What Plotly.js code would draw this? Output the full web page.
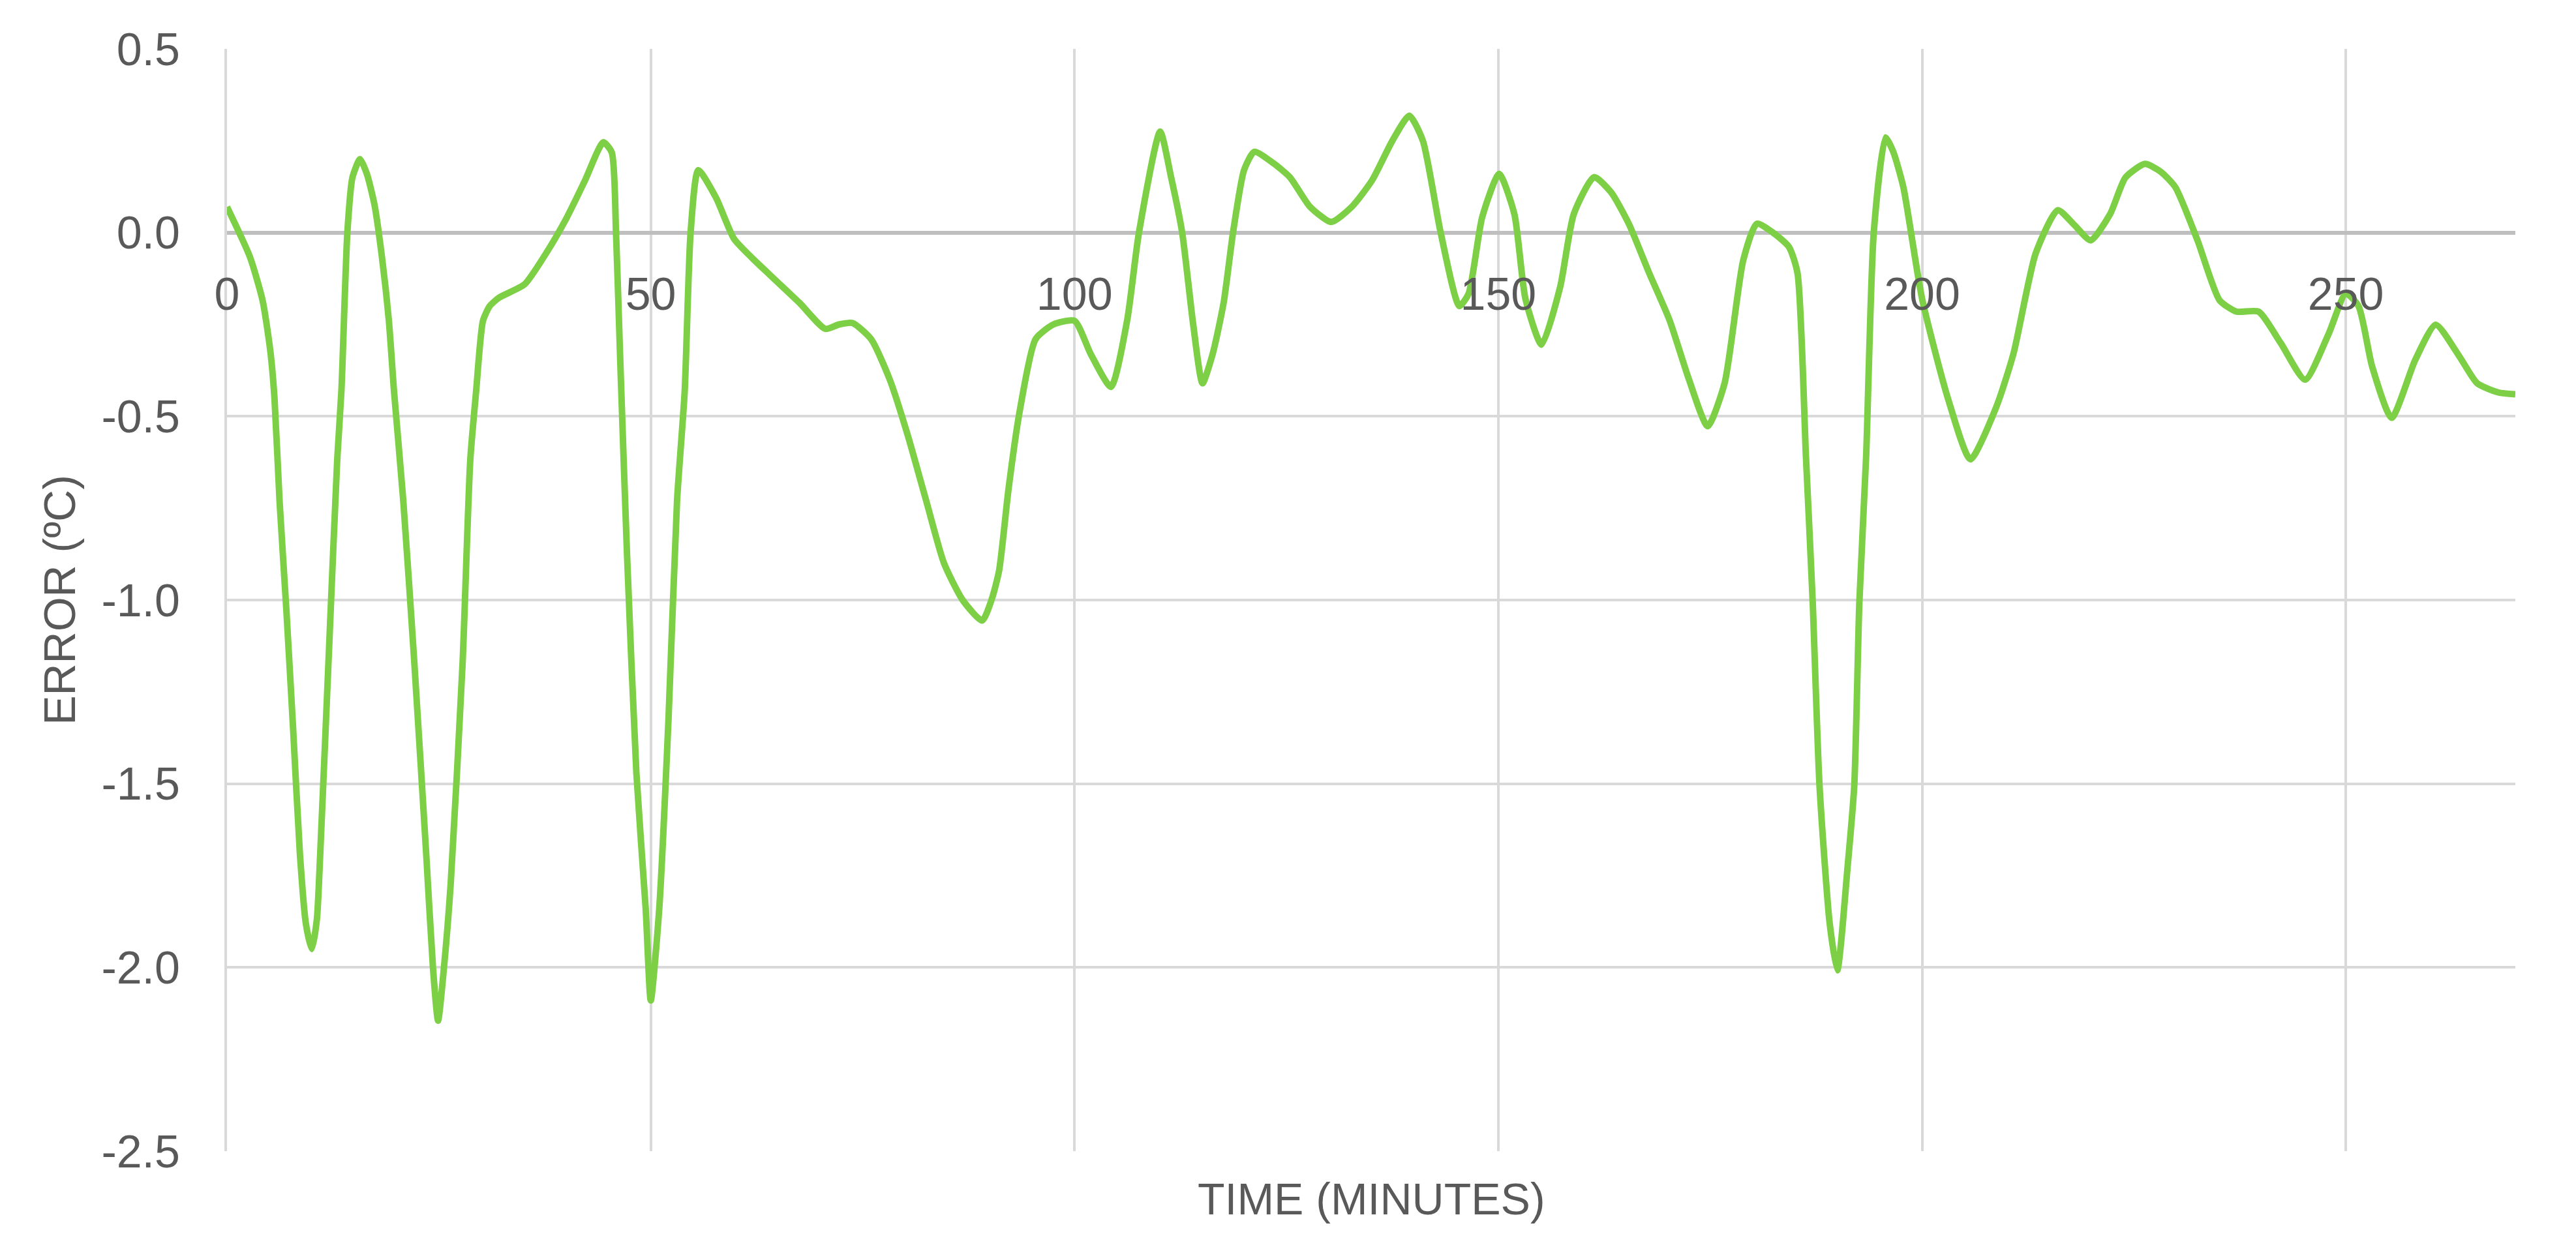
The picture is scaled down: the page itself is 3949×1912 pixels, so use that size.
<!DOCTYPE html>
<html>
<head>
<meta charset="utf-8">
<script src="https://cdn.plot.ly/plotly-3.0.1.min.js"></script>
<style>
html,body{margin:0;padding:0;background:#fff;}
#chart{width:3949px;height:1912px;}
</style>
</head>
<body>
<div id="chart"></div>
<script>
// Time (minutes)
const timeMin = [
  0, 2.7, 4.2, 5.1, 5.6, 6.2, 7.0, 7.8, 8.6, 9.3, 10.0, 10.6, 11.0, 12.1, 13.0, 13.5, 14.2, 14.8, 15.7, 16.5,
  17.4, 18.3, 19.1, 19.7, 20.8, 22.1, 23.5, 24.3, 24.9, 25.6, 26.4, 27.8, 28.7, 29.4, 30.2, 31.0, 32.1, 35.1, 37.6, 40.0,
  42.2, 44.4, 45.4, 45.9, 46.4, 47.2, 48.3, 49.4, 50.0, 51.0, 52.1, 53.1, 54.0, 54.7, 55.6, 57.7, 59.8, 62.0, 64.1, 67.5,
  70.6, 72.2, 73.8, 76.0, 78.2, 80.3, 82.5, 84.6, 86.8, 89.1, 90.2, 91.1, 92.2, 93.5, 95.4, 97.5, 100.0, 101.9, 104.3, 106.2,
  107.6, 110.1, 111.4, 112.7, 114.0, 115.1, 116.3, 117.6, 118.7, 120.0, 121.2, 123.4, 125.4, 127.8, 130.3, 132.7, 135.1, 137.5, 139.5, 141.1,
  143.2, 145.4, 146.5, 148.1, 150.1, 151.9, 153.2, 155.1, 157.3, 158.9, 161.3, 163.3, 165.4, 167.8, 170.2, 172.5, 174.7, 176.7, 178.9, 180.5,
  182.4, 184.3, 185.3, 186.3, 187.1, 187.9, 189.1, 190.0, 191.2, 192.0, 192.6, 193.4, 194.3, 195.7, 196.6, 197.8, 200.0, 203.1, 205.7, 208.8,
  210.8, 213.4, 216.0, 218.0, 219.9, 222.2, 224.0, 226.3, 228.2, 229.9, 232.5, 235.1, 237.1, 239.7, 242.3, 245.2, 248.0, 250.0, 251.5, 253.1,
  255.4, 258.2, 260.6, 263.4, 265.5, 268.0, 270.0
];
// Error (ºC)
const errorC = [
  0.07, -0.066, -0.185, -0.32, -0.45, -0.73, -1.026, -1.35, -1.69, -1.88, -1.95, -1.87, -1.69, -1.10, -0.62, -0.43, 0.0, 0.15, 0.20, 0.16,
  0.076, -0.07, -0.24, -0.43, -0.73, -1.17, -1.69, -2.0, -2.145, -2.0, -1.77, -1.17, -0.62, -0.43, -0.24, -0.20, -0.177, -0.141, -0.058, 0.037,
  0.14, 0.246, 0.218, 0.0, -0.35, -0.877, -1.47, -1.84, -2.09, -1.84, -1.32, -0.73, -0.433, 0.0, 0.17, 0.095, -0.016, -0.07, -0.116, -0.19,
  -0.262, -0.25, -0.246, -0.29, -0.40, -0.55, -0.73, -0.90, -1.0, -1.056, -1.0, -0.92, -0.70, -0.49, -0.29, -0.25, -0.24, -0.33, -0.42, -0.24,
  0.0, 0.275, 0.15, 0.0, -0.25, -0.41, -0.33, -0.19, 0.0, 0.17, 0.22, 0.19, 0.151, 0.07, 0.029, 0.07, 0.142, 0.25, 0.318, 0.25,
  0.0, -0.20, -0.166, 0.042, 0.16, 0.05, -0.18, -0.305, -0.148, 0.05, 0.151, 0.11, 0.024, -0.11, -0.238, -0.40, -0.527, -0.41, -0.075, 0.024,
  0.0, -0.039, -0.11, -0.61, -1.007, -1.505, -1.88, -2.008, -1.73, -1.505, -1.007, -0.61, 0.0, 0.259, 0.22, 0.123, -0.18, -0.455, -0.617, -0.472,
  -0.328, -0.057, 0.061, 0.02, -0.021, 0.051, 0.15, 0.187, 0.165, 0.123, -0.021, -0.184, -0.215, -0.215, -0.30, -0.40, -0.274, -0.166, -0.20, -0.364,
  -0.504, -0.346, -0.251, -0.337, -0.41, -0.435, -0.44
];
const xTicks = [0, 50, 100, 150, 200, 250];
const yTicks = [-2.5, -2.0, -1.5, -1.0, -0.5, 0.0, 0.5];
const xTitle = 'TIME (MINUTES)';
const yTitle = 'ERROR (ºC)';

const textColor = '#595959';
const gridColor = '#d9d9d9';
const fontFam = '"Liberation Sans", Arial, sans-serif';

const trace = {
  x: timeMin,
  y: errorC,
  type: 'scatter',
  mode: 'lines',
  line: {color: '#7dcf45', width: 10, shape: 'spline', smoothing: 0.6},
  hoverinfo: 'skip',
  showlegend: false
};

const yMin = -2.5, yMax = 0.5;
const layout = {
  width: 3949,
  height: 1912,
  paper_bgcolor: '#ffffff',
  plot_bgcolor: '#ffffff',
  margin: {l: 348, r: 93, t: 75, b: 147, pad: 0},
  showlegend: false,
  xaxis: {
    range: [0, 270],
    tickmode: 'array',
    tickvals: xTicks,
    ticktext: xTicks.map(String),
    showgrid: true,
    gridcolor: gridColor,
    gridwidth: 4,
    zeroline: false,
    showline: false,
    ticks: '',
    anchor: 'free',
    position: (0 - yMin) / (yMax - yMin),
    ticklabelstandoff: 47,
    tickfont: {family: fontFam, size: 70, color: textColor},
    fixedrange: true
  },
  yaxis: {
    range: [yMin, yMax],
    tickmode: 'array',
    tickvals: yTicks,
    ticktext: yTicks.map(v => v.toFixed(1)),
    showgrid: true,
    gridcolor: gridColor,
    gridwidth: 4,
    zeroline: true,
    zerolinecolor: '#bfbfbf',
    zerolinewidth: 6,
    showline: true,
    linecolor: gridColor,
    linewidth: 4,
    ticks: '',
    ticklabelstandoff: 54,
    tickfont: {family: fontFam, size: 70, color: textColor},
    fixedrange: true
  },
  annotations: [
    {
      text: xTitle, xref: 'paper', yref: 'paper', x: 0.5, y: -0.043,
      xanchor: 'center', yanchor: 'middle', showarrow: false,
      font: {family: fontFam, size: 68, color: textColor}
    },
    {
      text: yTitle, xref: 'paper', yref: 'paper', x: -0.0733, y: 0.5,
      xanchor: 'center', yanchor: 'middle', showarrow: false, textangle: -90,
      font: {family: fontFam, size: 68, color: textColor}
    }
  ]
};

Plotly.newPlot('chart', [trace], layout, {displayModeBar: false, staticPlot: true});
</script>
</body>
</html>
